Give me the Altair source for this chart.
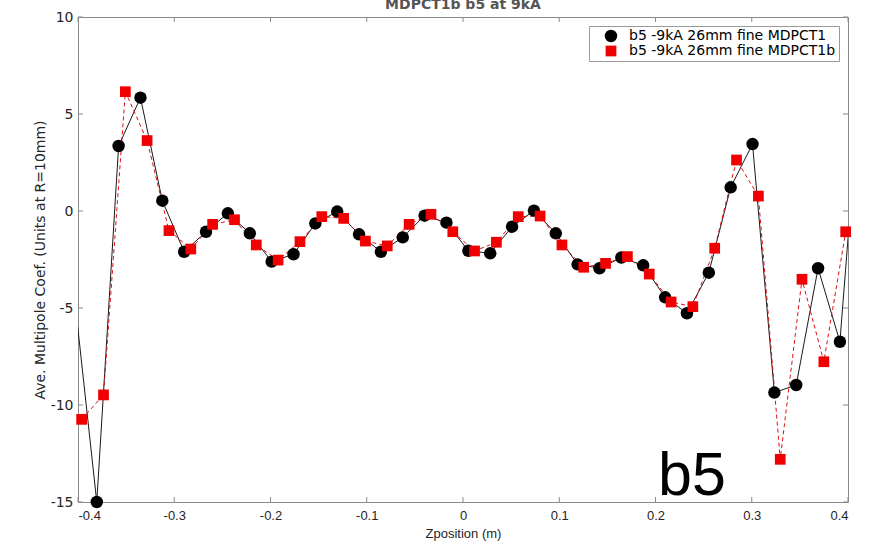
import altair as alt
import pandas as pd

# ---------------- data ----------------
series_names = ["b5 -9kA 26mm fine MDPCT1", "b5 -9kA 26mm fine MDPCT1b"]

x_ticks = [-0.4, -0.3, -0.2, -0.1, 0.0, 0.1, 0.2, 0.3, 0.4]
y_ticks = [-15, -10, -5, 0, 5, 10]

black_z = [-0.4032, -0.3805, -0.3578, -0.3351, -0.3124, -0.2897, -0.2670, -0.2443,
           -0.2215, -0.1988, -0.1761, -0.1534, -0.1307, -0.1080, -0.0853, -0.0626,
           -0.0399, -0.0172, 0.0056, 0.0283, 0.0510, 0.0737, 0.0964, 0.1191,
           0.1418, 0.1645, 0.1872, 0.2100, 0.2327, 0.2554, 0.2781, 0.3008,
           0.3235, 0.3462, 0.3689, 0.3916, 0.4143]
black_v = [-4.65, -15.0, 3.35, 5.84, 0.53, -2.1, -1.07, -0.12,
           -1.15, -2.61, -2.23, -0.64, -0.03, -1.2, -2.1, -1.36,
           -0.24, -0.6, -2.05, -2.18, -0.81, 0.02, -1.15, -2.75,
           -2.95, -2.4, -2.8, -4.45, -5.27, -3.18, 1.22, 3.45,
           -9.36, -8.97, -2.95, -6.74, 7.6]

red_z = [-0.3962, -0.3735, -0.3508, -0.3282, -0.3055, -0.2828, -0.2601, -0.2374,
         -0.2148, -0.1921, -0.1694, -0.1467, -0.1240, -0.1014, -0.0787, -0.0560,
         -0.0333, -0.0106, 0.0120, 0.0347, 0.0574, 0.0801, 0.1028, 0.1254,
         0.1481, 0.1708, 0.1935, 0.2162, 0.2388, 0.2615, 0.2842, 0.3069,
         0.3296, 0.3522, 0.3749, 0.3976]
red_v = [-10.74, -9.48, 6.15, 3.63, -1.01, -1.96, -0.69, -0.45,
         -1.75, -2.53, -1.58, -0.29, -0.38, -1.55, -1.8, -0.69,
         -0.17, -1.07, -2.06, -1.61, -0.29, -0.26, -1.75, -2.9,
         -2.7, -2.35, -3.25, -4.69, -4.93, -1.92, 2.63, 0.77,
         -12.8, -3.52, -7.77, -1.07]

panel_label = ["b5"]
chart_title = ["MDPCT1b b5 at 9kA"]
x_title = "Zposition (m)"
y_title = "Ave. Multipole Coef. (Units at R=10mm)"

# ---------------- layout ----------------
W, H = 770, 485
AXIS_GRAY = "#8a8a8a"
TEXT = "#262626"
ASCII_MINUS = "datum.value < 0 ? '-' + format(-datum.value, '~g') : format(datum.value, '~g')"

df = pd.DataFrame({
    "z": black_z + red_z,
    "v": black_v + red_v,
    "series": [series_names[0]] * len(black_z) + [series_names[1]] * len(red_z),
})

xs = alt.Scale(domain=[-0.4, 0.4], nice=False, zero=False)
ys = alt.Scale(domain=[-15, 10], nice=False, zero=False)

x_axis = alt.Axis(
    values=x_ticks, format="~g", labelExpr=ASCII_MINUS,
    domain=False, tickSize=0, grid=False,
    labelFont="Liberation Sans", labelFontSize=13, labelColor=TEXT,
    labelPadding=7, title=x_title,
    titleFont="Liberation Sans", titleFontSize=13,
    titleFontWeight="normal", titleColor=TEXT, titlePadding=5,
)
y_axis = alt.Axis(
    values=y_ticks, format="~g", labelExpr=ASCII_MINUS,
    domain=False, tickSize=0, grid=False,
    labelFont="DejaVu Sans", labelFontSize=14, labelColor=TEXT, labelPadding=5,
    title=y_title, titleFont="DejaVu Sans", titleFontSize=14,
    titleFontWeight="normal", titleColor=TEXT, titlePadding=3,
)

base = alt.Chart(df)
X = alt.X("z:Q", scale=xs, axis=x_axis)
Y = alt.Y("v:Q", scale=ys, axis=y_axis)

black_line = base.transform_filter(alt.datum.series == series_names[0]).mark_line(
    clip=True, color="#1a1a1a", strokeWidth=1
).encode(x=X, y=Y)

red_line = base.transform_filter(alt.datum.series == series_names[1]).mark_line(
    clip=True, color="#e01010", strokeWidth=1, strokeDash=[4, 3]
).encode(x=X, y=Y)

points = base.transform_filter(
    "datum.z >= -0.4 && datum.z <= 0.4"
).mark_point(filled=True, opacity=1).encode(
    x=X, y=Y,
    color=alt.Color(
        "series:N",
        scale=alt.Scale(domain=series_names, range=["#000000", "#f00000"]),
        legend=alt.Legend(
            title=None, orient="top-right", offset=9,
            labelFont="DejaVu Sans", labelFontSize=14, labelColor="#000000",
            labelLimit=400, strokeColor="#999999", fillColor="white",
            padding=3, rowPadding=1, symbolStrokeWidth=0,
            symbolOffset=12, labelOffset=11, cornerRadius=0,
        ),
    ),
    shape=alt.Shape(
        "series:N",
        scale=alt.Scale(domain=series_names, range=["circle", "square"]),
    ),
    size=alt.Size(
        "series:N",
        scale=alt.Scale(domain=series_names, range=[155, 115]),
    ),
)

xt = pd.DataFrame({"z": x_ticks})
yt = pd.DataFrame({"v": y_ticks})

x_ticks_bottom = alt.Chart(xt).mark_rule(color=AXIS_GRAY, strokeWidth=1).encode(
    x=X, y=alt.value(H), y2=alt.value(H - 5))
x_ticks_top = alt.Chart(xt).mark_rule(color=AXIS_GRAY, strokeWidth=1).encode(
    x=X, y=alt.value(0), y2=alt.value(5))
y_ticks_left = alt.Chart(yt).mark_rule(color=AXIS_GRAY, strokeWidth=1).encode(
    y=Y, x=alt.value(0), x2=alt.value(5))
y_ticks_right = alt.Chart(yt).mark_rule(color=AXIS_GRAY, strokeWidth=1).encode(
    y=Y, x=alt.value(W), x2=alt.value(W - 5))

label = alt.Chart(pd.DataFrame({"lab": panel_label})).mark_text(
    font="Liberation Sans", fontSize=61, color="#000000",
    align="left", baseline="alphabetic",
).encode(text="lab:N", x=alt.value(580), y=alt.value(478))

title_text = alt.Chart(pd.DataFrame({"lab": chart_title})).mark_text(
    font="DejaVu Sans", fontSize=14, fontWeight="bold", color="#555555",
    align="center", baseline="alphabetic",
).encode(text="lab:N", x=alt.value(W / 2), y=alt.value(-8))

chart = alt.layer(
    black_line, red_line, points,
    x_ticks_bottom, x_ticks_top, y_ticks_left, y_ticks_right,
    label, title_text,
).properties(
    width=W, height=H,
    autosize=alt.AutoSizeParams(type="none"),
    padding={"left": 78, "top": 17, "right": 27, "bottom": 51},
    background="white",
).configure_view(stroke=AXIS_GRAY, strokeWidth=1)

chart.save("out.html", embed_options={"renderer": "svg", "actions": False})
